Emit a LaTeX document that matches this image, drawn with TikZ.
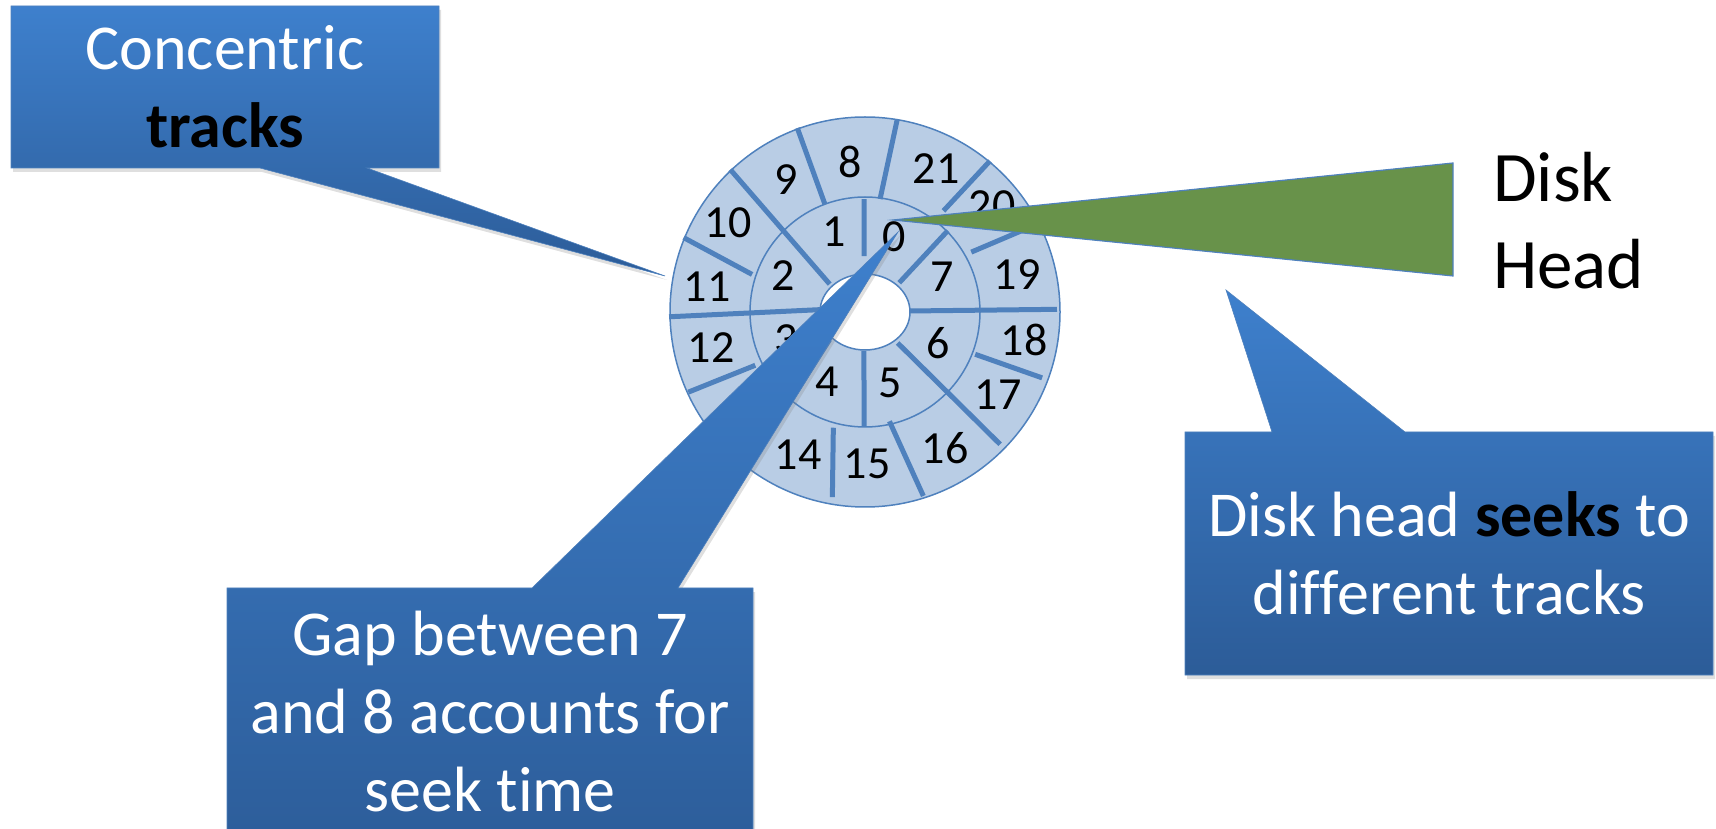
\documentclass[tikz,border=0pt]{standalone}
\usepackage{fontspec}
\setmainfont{Carlito}[Ligatures=NoCommon]
\usetikzlibrary{shadows}

\definecolor{diskfill}{RGB}{185,205,229}
\definecolor{diskline}{RGB}{79,129,189}
\definecolor{headgreen}{RGB}{104,146,74}
\definecolor{notetop}{RGB}{62,128,205}
\definecolor{notebottom}{RGB}{44,92,152}

\tikzset{
  callout/.style={top color=notetop, bottom color=notebottom, draw=diskline, line width=.6pt,
    drop shadow={opacity=.25, shadow xshift=2pt, shadow yshift=-4pt}},
  note/.style={text=white, align=center, inner sep=0pt, font=\fontsize{64}{78}\selectfont},
  sector/.style={inner sep=0pt, font=\fontsize{46}{50}\selectfont},
  divider/.style={diskline, line width=5pt},
}

\begin{document}
\begin{tikzpicture}[x=1pt,y=1pt]
  \useasboundingbox (0,0) rectangle (1716,828);
  % the platter
  \begin{scope}[shift={(865,516)}]
    \coordinate (hub) at (0,0);
    \filldraw[fill=diskfill, draw=diskline, line width=1.5pt] (hub) circle (195);
    \draw[diskline, line width=1.5pt] (hub) circle (115);
    \foreach \a/\r/\b/\s in {82.4/114/80.5/195, 110.4/115/110.2/196, 141.7/45/133.4/196,
        161.6/119/157.7/196, 177/45/181.4/196, 205.9/122/204.4/194, 218/45/233/191,
        254.7/120/260/188, 282.6/112/287.6/193, 316.5/45/315.6/189, 339/118/339.6/189,
        1.3/44/0.8/192, 29.4/122/27/195, 52.2/128/50.4/196,
        91/56/90.5/113, 268.5/39/269.5/114, 40.5/45/44.5/116}
      \draw[divider] (\a:\r) -- (\b:\s);
    \filldraw[fill=white, draw=diskline, line width=1.5pt] (hub) ellipse (45 and 38);
    \foreach \n/\x/\y in {0/29/75, 1/-31/80, 2/-82/36, 3/-79/-28, 4/-38/-70, 5/25/-71,
        6/73/-31, 7/77/35, 8/-15/150, 9/-79/132, 10/-137/89, 11/-158/25, 12/-154/-36,
        14/-67/-143, 15/2/-152, 16/80/-136, 17/133/-83, 18/159/-28, 19/152/37,
        20/127/106, 21/71/143}
      \node[sector] (s\n) at (\x,\y) {\n};
  \end{scope}

  % disk head
  \coordinate (head tip) at (893,608);
  \filldraw[fill=headgreen, draw=diskline, line width=1.2pt]
    (head tip) -- (1453,665) -- (1453,552) -- cycle;
  \node[anchor=west, inner sep=0pt, align=left, font=\fontsize{71}{87}\selectfont]
    (head) at (1493,607) {Disk\\Head};

  % callouts
  \coordinate (tracks tip) at (665,552);
  \path[callout] (11,822) -- (439,822) -- (439,660) -- (367,660) -- (tracks tip)
    -- (260,660) -- (11,660) -- cycle;
  \node[note] (tracks) at (225,741) {Concentric\\\textbf{\color{black}tracks}};

  \coordinate (seeks tip) at (1226,538);
  \path[callout] (1185,396) -- (1272,396) -- (seeks tip) -- (1405,396) -- (1713,396)
    -- (1713,153) -- (1185,153) -- cycle;
  \node[note] (seeks) at (1449,275) {Disk head \textbf{\color{black}seeks} to\\different tracks};

  \coordinate (gap tip) at (898,596);
  \path[callout] (227,240) -- (532,240) -- (gap tip) -- (678,240) -- (753,240)
    -- (753,-40) -- (227,-40) -- cycle;
  \node[note] (gap) at (490,116) {Gap between 7\\and 8 accounts for\\seek time};
\end{tikzpicture}
\end{document}
